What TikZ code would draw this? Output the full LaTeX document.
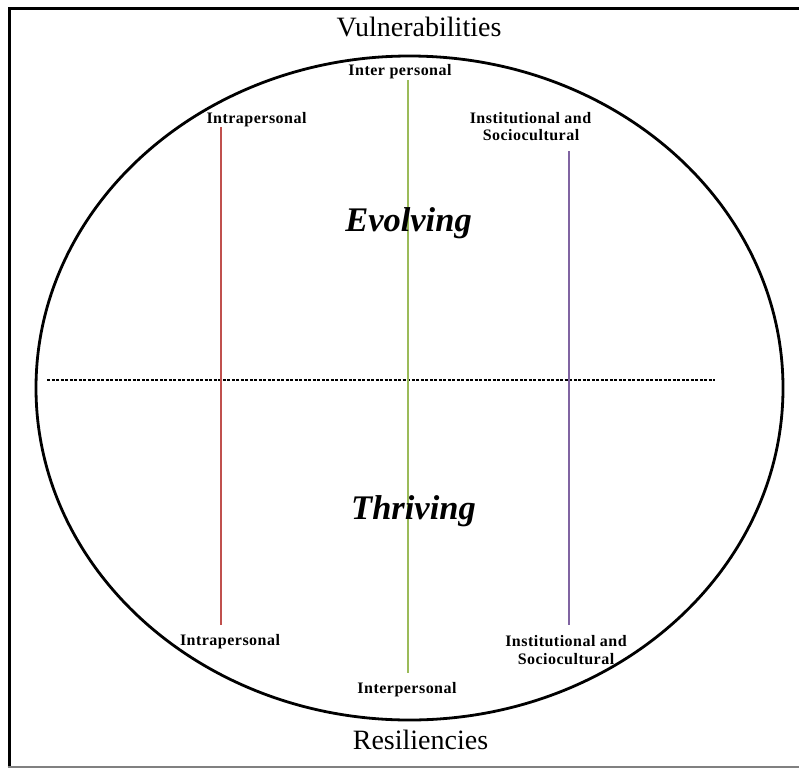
\documentclass[tikz,border=0pt]{standalone}
\usepackage{fontspec}
\usetikzlibrary{shapes.geometric}
\setmainfont{Liberation Serif}
\newfontfamily\lblfont[LetterSpace=3]{Liberation Serif}
\definecolor{intraRed}{HTML}{C0504D}
\definecolor{interGreen}{HTML}{9BBB59}
\definecolor{instPurple}{HTML}{8064A2}
\begin{document}
\begin{tikzpicture}[x=1pt,y=-1pt,
  heading/.style={inner sep=0pt,anchor=base,font=\fontsize{28}{30}\selectfont},
  phase/.style={inner sep=0pt,anchor=base,font=\fontsize{34.5}{38}\selectfont\bfseries\itshape},
  level/.style={inner sep=0pt,anchor=base,align=center,font=\lblfont\bfseries\fontsize{16}{18}\selectfont},
  axis/.style={line width=2.4pt}]
\useasboundingbox (0,0) rectangle (799,768);
\fill[white] (0,0) rectangle (799,768);

% frame
\draw[line width=3pt] (9,767) -- (9,8.5) -- (805,8.5);
\draw[line width=1.5pt,gray] (7.5,767) -- (805,767);

% outer ellipse
\node[draw,line width=2.8pt,ellipse,minimum width=747pt,minimum height=664pt,inner sep=0pt] (field) at (409.5,388) {};

% divider between the two halves
\coordinate (divL) at (47,380);
\coordinate (divR) at (715,380);
\draw[line width=1.1pt,dash pattern=on 3pt off 1.5pt] (divL) -- (divR);

% level axes
\coordinate (intraTop) at (221,127);
\coordinate (intraBot) at (221,625);
\coordinate (interTop) at (408,80);
\coordinate (interBot) at (408,673);
\coordinate (instTop) at (569,151);
\coordinate (instBot) at (569,625);
\draw[axis,intraRed] (intraTop) -- (intraBot);
\draw[axis,interGreen] (interTop) -- (interBot);
\draw[axis,instPurple] (instTop) -- (instBot);

% headings
\node[heading] (vul) at (419,37) {Vulnerabilities};
\node[heading] (res) at (420.5,749) {Resiliencies};
\node[phase] (evo) at (408.5,231) {Evolving};
\node[phase] (thr) at (413.5,519) {Thriving};

% level labels, top
\node[level] (intraA) at (256.5,123) {Intrapersonal};
\node[level] (interA) at (400,75) {Inter personal};
\node[level] (instA1) at (530.5,123) {Institutional and};
\node[level] (instA2) at (531,140) {Sociocultural};

% level labels, bottom
\node[level] (intraB) at (230,645) {Intrapersonal};
\node[level] (interB) at (407,693) {Interpersonal};
\node[level] (instB1) at (566,646) {Institutional and};
\node[level] (instB2) at (566,664) {Sociocultural};
\end{tikzpicture}
\end{document}
